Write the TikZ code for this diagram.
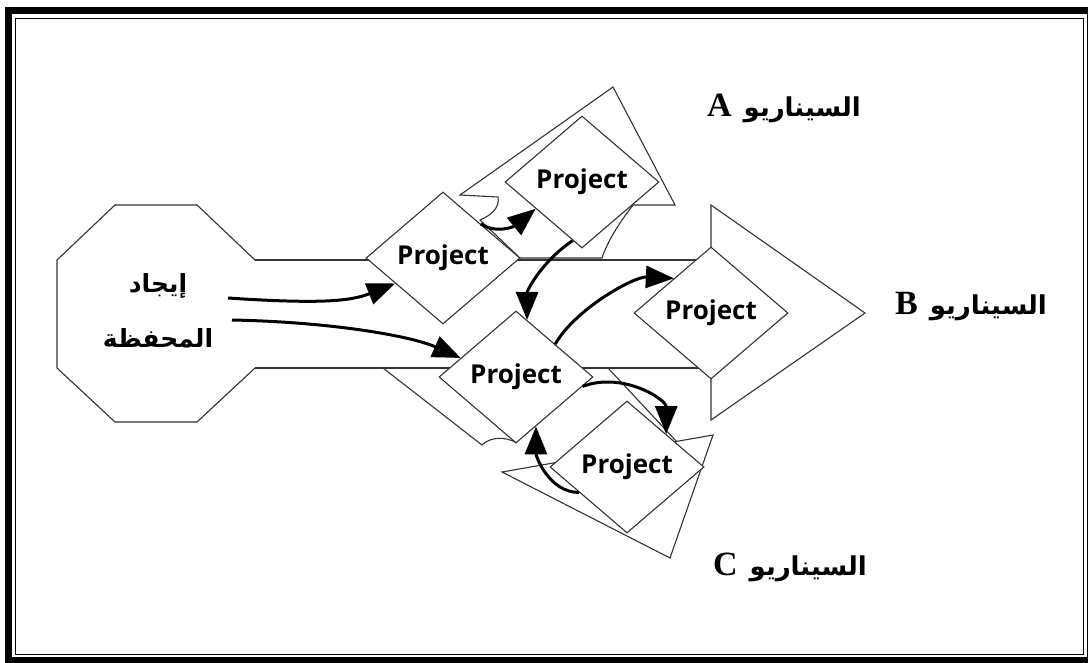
\documentclass[tikz,border=0pt]{standalone}
\usepackage{fontspec}
\TeXXeTstate=1
\newfontfamily\arabicfont[Script=Arabic]{DejaVu Sans}
\newfontfamily\latinfont{Liberation Serif}
\newfontfamily\projfont{Open Sans}
\usetikzlibrary{shapes.geometric,arrows.meta}

\newcommand\scenlabel[1]{\beginR{\arabicfont\bfseries\fontsize{26}{30}\selectfont السيناريو}\hspace{12pt}{\latinfont\bfseries\fontsize{34}{38}\selectfont #1}\endR}

\begin{document}
\begin{tikzpicture}[x=1pt,y=-1pt,
  outline/.style={draw=black!80,line width=1.1pt,fill=white},
  project/.style={diamond,outline,minimum width=154pt,minimum height=132pt,
    inner sep=0pt,font=\projfont\bfseries\fontsize{26}{30}\selectfont},
  flow/.style={line width=3pt,-{Triangle[length=28pt,width=22pt]}}]
  \useasboundingbox (0,0) rectangle (1088,662);
  \draw[line width=7pt] (8,10.5) rectangle (1090.5,660);
  \draw[line width=1.5pt] (15.5,18.5) rectangle (1083.5,654.5);

  \draw[outline] (255,260) -- (197,205) -- (115,205) -- (57,260) -- (57,368)
    -- (115,422) -- (197,422) -- (255,368);
  \draw[outline] (255,260) -- (711,260);
  \draw[outline] (255,368) -- (711,368);

  \draw[outline] (460,195) -- (498,197) .. controls (500,207) and (492,215) .. (480,220)
    -- (520,258) -- (602,258) .. controls (608,240) and (620,222) .. (633,205)
    -- (675,205) -- (613,87) -- cycle;

  \draw[outline] (502,472) -- (713,435) -- (670,558) -- cycle;
  \draw[outline] (608,368) -- (677,442);
  \draw[outline] (383,368) -- (482,445) .. controls (490,437) and (505,436) .. (517,443);

  \draw[outline] (711,205) -- (865,313) -- (711,420) -- cycle;

  \node[project] (d1) at (443,258) {Project};
  \node[project] (d2) at (582,182) {Project};
  \node[project] (d3) at (516,377) {Project};
  \node[project] (db) at (711,313) {Project};
  \node[project] (d4) at (627,467) {Project};

  \node[align=center,font=\arabicfont\bfseries\fontsize{25}{55}\selectfont] (port) at (158,311)
    {\beginR إيجاد\endR\\ \beginR المحفظة\endR};
  \node (sa) at (784,108) {\scenlabel{A}};
  \node (sb) at (971,307) {\scenlabel{B}};
  \node (sc) at (790,567) {\scenlabel{C}};

  \coordinate (s1) at (228,298);
  \coordinate (s2) at (232,320);
  \draw[flow] (s1) .. controls +(90,6) and +(-45,18) .. (d1.208);
  \draw[flow] (s2) .. controls +(100,2) and +(-50,-22) .. (d3.161);
  \draw[flow] (d1.42) .. controls +(15,10) and +(-22,18) .. (d2.210);
  \draw[flow] (d2.261) .. controls +(-30,20) and +(0,-30) .. (d3.79);
  \draw[flow] (d3.40) .. controls +(20,-35) and +(-40,-2) .. (db.137);
  \draw[flow] (d3.352) .. controls +(40,-15) and +(0,-35) .. (d4.40);
  \draw[flow] (d4.208) .. controls +(-30,0) and +(0,30) .. (d3.292);
\end{tikzpicture}
\end{document}
